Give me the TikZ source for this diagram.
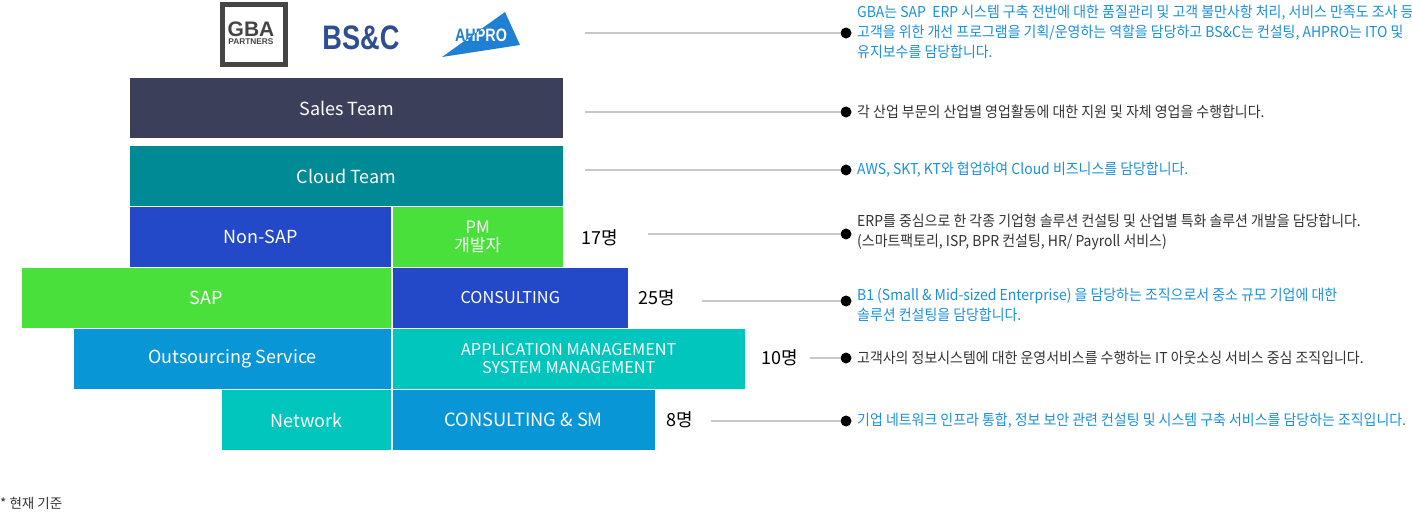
\documentclass[tikz,border=0pt]{standalone}
\usepackage{fontspec}
\setmainfont{Noto Sans CJK KR}
\newfontfamily\descfont[FakeStretch=0.93]{Noto Sans CJK KR}
\newfontfamily\logofont[FakeStretch=0.8]{Liberation Sans}
\newfontfamily\logofontw{Liberation Sans}
\definecolor{salesc}{HTML}{3B3F59}
\definecolor{cloudc}{HTML}{008A96}
\definecolor{royalc}{HTML}{2349C8}
\definecolor{limec}{HTML}{4AE03B}
\definecolor{skyc}{HTML}{0896D7}
\definecolor{tealc}{HTML}{00C6BD}
\definecolor{descblue}{HTML}{1A90D9}
\definecolor{descgray}{HTML}{333333}
\definecolor{gbagray}{HTML}{454545}
\definecolor{bscblue}{HTML}{2E4F8F}
\definecolor{ahblue}{HTML}{1F7FD2}
\definecolor{linegray}{HTML}{C8C8C8}
\tikzset{
  bar/.style={fill=#1, text=white, inner sep=0pt, outer sep=0pt,
    minimum height=60bp, anchor=north west, align=center,
    font=\fontsize{18bp}{19bp}\selectfont},
  smallbar/.style={font=\fontsize{16.3bp}{18bp}\selectfont},
  count/.style={text=black, inner sep=0pt, font=\fontsize{18bp}{18bp}\selectfont},
  dot/.style={circle, fill=black, inner sep=0pt, minimum size=11bp},
  conn/.style={draw=linegray, line width=1.2bp},
  desc/.style={text=#1, inner sep=0pt, anchor=west, align=left,
    font=\descfont\fontsize{15bp}{20bp}\selectfont},
}
\begin{document}
\begin{tikzpicture}[x=1bp,y=-1bp]
  \useasboundingbox (0,0) rectangle (1412,512);
  % logos
  \node[draw=gbagray, line width=5bp, minimum width=63bp, minimum height=60bp,
    inner sep=0pt, anchor=north west] (gba) at (219.5,2.5) {};
  \node[text=gbagray, inner sep=0pt, font=\logofontw\bfseries\fontsize{21bp}{21bp}\selectfont]
    (gbaname) at (251,29) {GBA};
  \node[text=gbagray, inner sep=0pt, font=\logofontw\bfseries\fontsize{8.3bp}{9bp}\selectfont]
    (gbasub) at (251,42) {PARTNERS};
  \node[text=bscblue, inner sep=0pt, font=\logofont\bfseries\fontsize{34bp}{34bp}\selectfont]
    (bsc) at (361,37.5) {BS\&C};
  \fill[ahblue] (442,57) -- (505,12) -- (520,45) -- cycle;
  \node[text=ahblue, inner sep=0pt, font=\logofont\bfseries\fontsize{18bp}{18bp}\selectfont]
    (ahpro) at (481,35) {AHPRO};
  \begin{scope}
    \clip (442,57) -- (505,12) -- (520,45) -- cycle;
    \node[text=white, inner sep=0pt, font=\logofont\bfseries\fontsize{18bp}{18bp}\selectfont]
      (ahprow) at (481,35) {AHPRO};
  \end{scope}
  % team bars
  \node[bar=salesc, minimum width=433bp] (sales) at (130,78) {Sales Team};
  \node[bar=cloudc, minimum width=433bp] (cloud) at (130,146) {Cloud Team};
  % left column
  \node[bar=royalc, minimum width=261bp] (nonsap) at (130,207) {Non-SAP};
  \node[bar=limec, minimum width=369bp] (sap) at (22,268) {SAP};
  \node[bar=skyc, minimum width=317bp] (outs) at (74,329) {Outsourcing Service};
  \node[bar=tealc, minimum width=169bp] (net) at (222,390) {Network};
  % right column
  \node[bar=limec, minimum width=170.5bp, font=\fontsize{17bp}{18bp}\selectfont]
    (pm) at (392.5,207) {PM\\개발자};
  \node[bar=royalc, minimum width=235.5bp, smallbar] (cons) at (392.5,268) {CONSULTING};
  \node[bar=tealc, minimum width=352.5bp, smallbar] (appl) at (392.5,329)
    {APPLICATION MANAGEMENT\\SYSTEM MANAGEMENT};
  \node[bar=skyc, minimum width=262.5bp, font=\fontsize{18.3bp}{19bp}\selectfont]
    (cssm) at (392.5,390) {CONSULTING \& SM};
  \draw[draw=white!85!gray, line width=1bp] ([xshift=0.75bp]nonsap.north east)
    -- ([xshift=0.75bp]net.south east);
  % head counts
  \node[count] (n17) at (600,238) {17명};
  \node[count] (n25) at (657,298) {25명};
  \node[count] (n10) at (780,358) {10명};
  \node[count] (n8) at (680,420) {8명};
  % dots and lines
  \node[dot] (d1) at (846,33) {};
  \node[dot] (d2) at (846,112) {};
  \node[dot] (d3) at (846,170) {};
  \node[dot] (d4) at (846,234) {};
  \node[dot] (d5) at (846,301) {};
  \node[dot] (d6) at (846,358) {};
  \node[dot] (d7) at (846,421) {};
  \coordinate (s1) at (585,33);
  \coordinate (s2) at (585,112);
  \coordinate (s3) at (585,170);
  \coordinate (s4) at (648,234);
  \coordinate (s5) at (702,301);
  \coordinate (s6) at (810,358);
  \coordinate (s7) at (711,421);
  \foreach \i in {1,...,7}
    \draw[conn] (s\i) -- (d\i);
  % descriptions
  \node[desc=descblue] (t1) at (857,32)
    {GBA는 SAP\ \ ERP 시스템 구축 전반에 대한 품질관리 및 고객 불만사항 처리, 서비스 만족도 조사 등\\
     고객을 위한 개선 프로그램을 기획/운영하는 역할을 담당하고 BS\&C는 컨설팅, AHPRO는 ITO 및\\
     유지보수를 담당합니다.};
  \node[desc=descgray] (t2) at (857,112) {각 산업 부문의 산업별 영업활동에 대한 지원 및 자체 영업을 수행합니다.};
  \node[desc=descblue] (t3) at (857,170) {AWS, SKT, KT와 협업하여 Cloud 비즈니스를 담당합니다.};
  \node[desc=descgray] (t4) at (857,232)
    {ERP를 중심으로 한 각종 기업형 솔루션 컨설팅 및 산업별 특화 솔루션 개발을 담당합니다.\\
     (스마트팩토리, ISP, BPR 컨설팅, HR/ Payroll 서비스)};
  \node[desc=descblue] (t5) at (857,305)
    {B1 (Small \& Mid-sized Enterprise) 을 담당하는 조직으로서 중소 규모 기업에 대한\\
     솔루션 컨설팅을 담당합니다.};
  \node[desc=descgray] (t6) at (857,358) {고객사의 정보시스템에 대한 운영서비스를 수행하는 IT 아웃소싱 서비스 중심 조직입니다.};
  \node[desc=descblue] (t7) at (857,421) {기업 네트워크 인프라 통합, 정보 보안 관련 컨설팅 및 시스템 구축 서비스를 담당하는 조직입니다.};
  % footnote
  \node[text=descgray, inner sep=0pt, anchor=west, font=\fontsize{13.5bp}{14bp}\selectfont]
    (note) at (0,503) {* 현재 기준};
\end{tikzpicture}
\end{document}
